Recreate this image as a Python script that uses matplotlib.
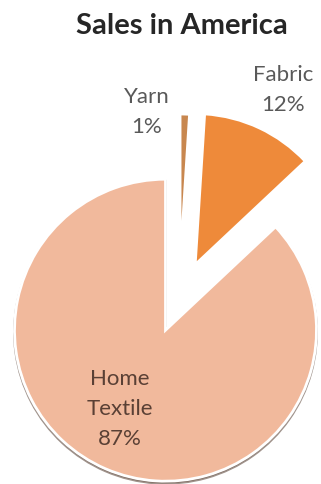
import matplotlib
matplotlib.use('Agg')
import matplotlib.pyplot as plt
import matplotlib.patches as mpatches

# Данные по продажам
categories = ['Yarn', 'Fabric', 'Home Textile']
shares = [1, 12, 87]
label_lines = ['Yarn\n1%', 'Fabric\n12%', 'Home\nTextile\n87%']

colors = ['#c8874f', '#ee8a3a', '#f1b99c']
text_colors = ['#595959', '#595959', '#5a4035']

W, H = 321, 485

fig = plt.figure(figsize=(W / 100, H / 100), dpi=100)
ax = fig.add_axes([0, 0, 1, 1])

# Координаты в пикселях, ось y вверх
wedges, _ = ax.pie(shares, colors=colors, startangle=90, counterclock=False,
                   center=(179, H - 300), radius=151,
                   explode=[34, 38, 34], frame=True,
                   wedgeprops=dict(edgecolor='white', linewidth=2))
ax.set_xlim(0, W)
ax.set_ylim(0, H)
ax.axis('off')

# Тень под большим сектором
shadow = mpatches.Shadow(wedges[2], 0, -1.5, shade=0.6, alpha=0.6)
shadow.set_zorder(wedges[2].get_zorder() - 0.1)
ax.add_patch(shadow)

label_pos = [(147, H - 112), (283, H - 90), (120, H - 409)]
for txt, (x, y), c in zip(label_lines, label_pos, text_colors):
    ax.text(x, y, txt, ha='center', va='center', fontsize=16,
            family='Lato', color=c, linespacing=1.6)

ax.text(182, H - 26, 'Sales in America', ha='center', va='center',
        fontsize=21, family='Lato', fontweight='bold', color='#262626')

fig.savefig('out.png', dpi=100)
